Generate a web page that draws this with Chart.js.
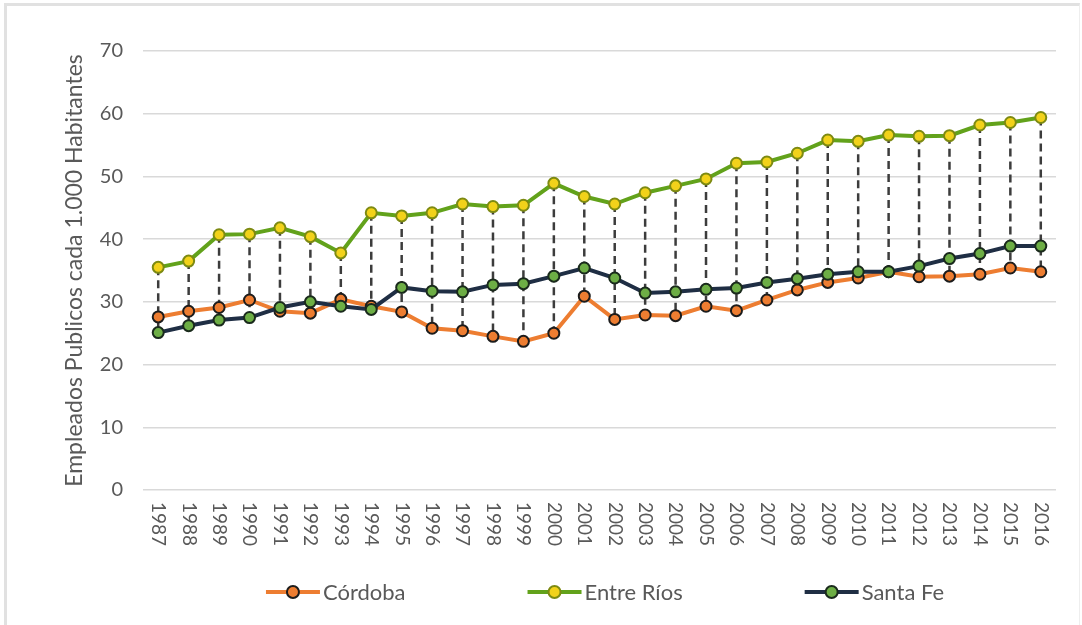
<!DOCTYPE html>
<html>
<head>
<meta charset="utf-8">
<script src="https://cdn.jsdelivr.net/npm/chart.js@4"></script>
<style>
  html, body { margin: 0; padding: 0; background: #ffffff; }
  #wrap { position: relative; width: 1082px; height: 625px; overflow: hidden; }
  #frame {
    position: absolute; left: 4px; top: 3px; width: 1072px; height: 640px;
    border-top: 3px solid #e1e1e1; border-left: 3px solid #e1e1e1; border-right: 1px solid #eeeeee;
  }
  canvas { position: absolute; left: 0; top: 0; }
</style>
</head>
<body>
<div id="wrap">
  <div id="frame"></div>
  <canvas id="chart" width="1082" height="625"></canvas>
</div>
<script>
// Empleados públicos cada 1.000 habitantes, 1987-2016
const years = ['1987','1988','1989','1990','1991','1992','1993','1994','1995','1996',
               '1997','1998','1999','2000','2001','2002','2003','2004','2005','2006',
               '2007','2008','2009','2010','2011','2012','2013','2014','2015','2016'];

const cordoba   = [27.6, 28.5, 29.1, 30.3, 28.5, 28.2, 30.4, 29.3, 28.4, 25.8,
                   25.4, 24.5, 23.7, 25.0, 30.9, 27.2, 27.9, 27.8, 29.3, 28.6,
                   30.3, 31.9, 33.1, 33.8, 34.8, 34.0, 34.1, 34.4, 35.4, 34.8];

const entreRios = [35.5, 36.5, 40.7, 40.8, 41.8, 40.4, 37.8, 44.2, 43.7, 44.2,
                   45.6, 45.2, 45.4, 48.9, 46.8, 45.6, 47.4, 48.5, 49.6, 52.1,
                   52.3, 53.7, 55.8, 55.6, 56.6, 56.4, 56.5, 58.2, 58.6, 59.4];

const santaFe   = [25.1, 26.2, 27.1, 27.5, 29.1, 30.0, 29.3, 28.8, 32.3, 31.7,
                   31.6, 32.7, 32.9, 34.1, 35.4, 33.8, 31.4, 31.6, 32.0, 32.2,
                   33.1, 33.7, 34.4, 34.8, 34.8, 35.7, 36.9, 37.7, 38.9, 38.9];

const seriesNames = ['Córdoba', 'Entre Ríos', 'Santa Fe'];
const yAxisTitle = 'Empleados Publicos cada 1.000 Habitantes';
const yMin = 0, yMax = 70, yStep = 10;

const FONT = 'Lato, "Open Sans", sans-serif';
const TEXT = '#595959';

// Dashed high-low lines joining the highest and lowest value of each year
const highLowLines = {
  id: 'highLowLines',
  beforeDatasetsDraw(chart) {
    const {ctx, scales: {x, y}} = chart;
    ctx.save();
    ctx.strokeStyle = '#3c3c3c';
    ctx.lineWidth = 2.5;
    ctx.setLineDash([8, 5]);
    years.forEach((_, i) => {
      const vals = chart.data.datasets.map(d => d.data[i]);
      const px = x.getPixelForValue(i);
      ctx.beginPath();
      ctx.moveTo(px, y.getPixelForValue(Math.max(...vals)));
      ctx.lineTo(px, y.getPixelForValue(Math.min(...vals)));
      ctx.stroke();
    });
    ctx.restore();
  }
};

// Category labels turned a quarter turn clockwise, read top to bottom
const verticalYearLabels = {
  id: 'verticalYearLabels',
  afterDraw(chart) {
    const {ctx, scales: {x}, chartArea} = chart;
    ctx.save();
    ctx.fillStyle = TEXT;
    ctx.font = '19px ' + FONT;
    ctx.textAlign = 'left';
    ctx.textBaseline = 'middle';
    years.forEach((label, i) => {
      ctx.save();
      ctx.translate(x.getPixelForValue(i), chartArea.bottom + 12);
      ctx.rotate(Math.PI / 2);
      ctx.fillText(label, 0, 0);
      ctx.restore();
    });
    ctx.restore();
  }
};

// Legend row: line segment with a marker, then the series name
const lineLegend = {
  id: 'lineLegend',
  afterDraw(chart) {
    const {ctx} = chart;
    const sets = chart.data.datasets.slice().sort((a, b) => a.legendIndex - b.legendIndex);
    const iconW = 54, iconGap = 3, itemGap = 122, cy = 592;
    ctx.save();
    ctx.font = '22px ' + FONT;
    const widths = sets.map(d => iconW + iconGap + ctx.measureText(d.label).width);
    const total = widths.reduce((a, b) => a + b, 0) + itemGap * (sets.length - 1);
    let xPos = 605 - total / 2;
    sets.forEach((d, k) => {
      ctx.strokeStyle = d.borderColor;
      ctx.lineWidth = 4;
      ctx.setLineDash([]);
      ctx.beginPath();
      ctx.moveTo(xPos, cy);
      ctx.lineTo(xPos + iconW, cy);
      ctx.stroke();
      ctx.beginPath();
      ctx.arc(xPos + iconW / 2, cy, 6, 0, Math.PI * 2);
      ctx.fillStyle = d.pointBackgroundColor;
      ctx.fill();
      ctx.lineWidth = 2;
      ctx.strokeStyle = d.pointBorderColor;
      ctx.stroke();
      ctx.fillStyle = TEXT;
      ctx.textAlign = 'left';
      ctx.textBaseline = 'middle';
      ctx.fillText(d.label, xPos + iconW + iconGap, cy + 1);
      xPos += widths[k] + itemGap;
    });
    ctx.restore();
  }
};

function series(label, data, line, fill, edge, order, legendIndex) {
  return {
    label, data, order, legendIndex,
    borderColor: line, borderWidth: 4,
    pointBackgroundColor: fill, pointBorderColor: edge,
    pointBorderWidth: 2, pointRadius: 5.5, pointHoverRadius: 5.5,
    tension: 0, fill: false
  };
}

new Chart(document.getElementById('chart'), {
  type: 'line',
  data: {
    labels: years,
    datasets: [
      series(seriesNames[0], cordoba,   '#ED7D31', '#ED7D31', '#1c1c1c', 2, 0),
      series(seriesNames[1], entreRios, '#62A21B', '#F2D21A', '#7d8a12', 1, 1),
      series(seriesNames[2], santaFe,   '#1F2E44', '#6DAE45', '#1a2a1c', 0, 2)
    ]
  },
  options: {
    responsive: false,
    animation: false,
    events: [],
    layout: { padding: { top: 51, right: 26, left: 0, bottom: 0 } },
    plugins: { legend: { display: false }, tooltip: { enabled: false } },
    scales: {
      x: {
        type: 'category',
        offset: true,
        grid: { display: false, drawTicks: false },
        border: { display: false },
        ticks: { display: false },
        afterFit(scale) { scale.height = 625 - 490; }
      },
      y: {
        min: yMin, max: yMax,
        ticks: { stepSize: yStep, padding: 20, color: TEXT, font: { family: FONT, size: 20 } },
        grid: { color: '#d9d9d9', lineWidth: 1.5, drawTicks: false },
        border: { display: false },
        title: {
          display: true, text: yAxisTitle, color: TEXT,
          font: { family: FONT, size: 23 }, padding: { top: 61, bottom: 0 }
        },
        afterFit(scale) { scale.width = 143; }
      }
    }
  },
  plugins: [highLowLines, verticalYearLabels, lineLegend]
});
</script>
</body>
</html>
